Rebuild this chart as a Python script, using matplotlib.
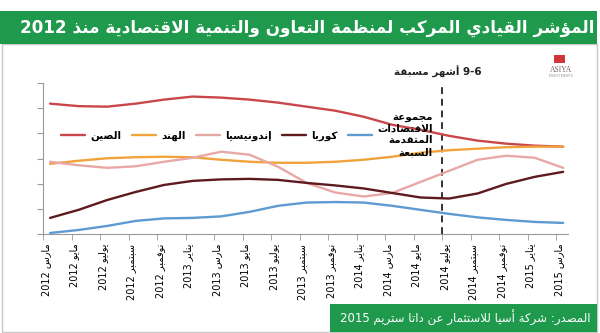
import re
import numpy as np
import matplotlib
matplotlib.use("Agg")
import matplotlib.pyplot as plt
from matplotlib.patches import Rectangle

# ---- data (y in grid units 0..6) ----
months = ['مارس', 'مايو', 'يوليو', 'سبتمبر', 'نوفمبر', 'يناير'] * 3 + ['مارس']
years = ['2012'] * 5 + ['2013'] * 6 + ['2014'] * 6 + ['2015'] * 2
x_pos = np.arange(19) + 0.25

china = [5.18, 5.08, 5.06, 5.18, 5.34, 5.46, 5.42, 5.34, 5.22, 5.06,
         4.90, 4.66, 4.34, 4.14, 3.90, 3.71, 3.59, 3.51, 3.47]
india = [2.79, 2.91, 3.01, 3.05, 3.07, 3.05, 2.95, 2.87, 2.83, 2.83,
         2.87, 2.95, 3.07, 3.23, 3.33, 3.39, 3.45, 3.47, 3.47]
indonesia = [2.87, 2.73, 2.63, 2.69, 2.87, 3.03, 3.27, 3.15, 2.67, 2.03,
             1.65, 1.49, 1.63, 2.07, 2.51, 2.95, 3.11, 3.03, 2.63]
korea = [0.64, 0.96, 1.35, 1.67, 1.95, 2.11, 2.17, 2.19, 2.15, 2.03,
         1.93, 1.81, 1.63, 1.45, 1.41, 1.61, 1.99, 2.27, 2.47]
g7 = [0.04, 0.16, 0.32, 0.52, 0.62, 0.64, 0.70, 0.88, 1.12, 1.25,
      1.27, 1.25, 1.12, 0.96, 0.80, 0.66, 0.56, 0.48, 0.44]

series_names = ['الصين', 'الهند', 'إندونيسيا', 'كوريا',
                'مجموعة\nالاقتصادات\nالمتقدمة\nالسبعة']
series_values = [china, india, indonesia, korea, g7]
series_colors = ['#c9474b', '#f0a33c', '#e8a8a6', '#5e1a1f', '#5e9bd3']

title = 'المؤشر القيادي المركب لمنظمة التعاون والتنمية الاقتصادية منذ 2012'
source = 'المصدر: شركة أسيا للاستثمار عن داتا ستريم 2015'
marker_text = '9-6 أشهر مسبقة'
marker_x = 14

# ---- minimal arabic shaping + right-to-left ordering (matplotlib does neither) ----
FORMS = {
    'ء': (0xFE80, 1), 'آ': (0xFE81, 2), 'أ': (0xFE83, 2), 'ؤ': (0xFE85, 2), 'إ': (0xFE87, 2),
    'ئ': (0xFE89, 4), 'ا': (0xFE8D, 2), 'ب': (0xFE8F, 4), 'ة': (0xFE93, 2), 'ت': (0xFE95, 4),
    'ث': (0xFE99, 4), 'ج': (0xFE9D, 4), 'ح': (0xFEA1, 4), 'خ': (0xFEA5, 4), 'د': (0xFEA9, 2),
    'ذ': (0xFEAB, 2), 'ر': (0xFEAD, 2), 'ز': (0xFEAF, 2), 'س': (0xFEB1, 4), 'ش': (0xFEB5, 4),
    'ص': (0xFEB9, 4), 'ض': (0xFEBD, 4), 'ط': (0xFEC1, 4), 'ظ': (0xFEC5, 4), 'ع': (0xFEC9, 4),
    'غ': (0xFECD, 4), 'ف': (0xFED1, 4), 'ق': (0xFED5, 4), 'ك': (0xFED9, 4), 'ل': (0xFEDD, 4),
    'م': (0xFEE1, 4), 'ن': (0xFEE5, 4), 'ه': (0xFEE9, 4), 'و': (0xFEED, 2), 'ى': (0xFEEF, 2),
    'ي': (0xFEF1, 4),
}
LAM_ALEF = {'آ': 0xFEF5, 'أ': 0xFEF7, 'إ': 0xFEF9, 'ا': 0xFEFB}


def shape(s):
    units = []
    i = 0
    while i < len(s):
        if s[i] == 'ل' and i + 1 < len(s) and s[i + 1] in LAM_ALEF:
            units.append(('LA', s[i + 1]))
            i += 2
        else:
            units.append(('C', s[i]))
            i += 1

    def joins_next(u):
        return u[0] == 'C' and u[1] in FORMS and FORMS[u[1]][1] == 4

    def joinable(u):
        return u[0] == 'LA' or (u[1] in FORMS and FORMS[u[1]][1] > 1)

    out = []
    for k, u in enumerate(units):
        jp = k > 0 and joins_next(units[k - 1]) and joinable(u)
        jn = k + 1 < len(units) and joins_next(u) and joinable(units[k + 1])
        if u[0] == 'LA':
            out.append(chr(LAM_ALEF[u[1]] + (1 if jp else 0)))
        elif u[1] in FORMS:
            base, n = FORMS[u[1]]
            if n == 4:
                idx = 3 if (jp and jn) else 2 if jn else 1 if jp else 0
            elif n == 2:
                idx = 1 if jp else 0
            else:
                idx = 0
            out.append(chr(base + idx))
        else:
            out.append(u[1])
    return ''.join(out)


def ar(text):
    lines = []
    for line in text.split('\n'):
        runs = re.findall(r'[0-9]+(?:[-.,][0-9]+)*|[^0-9]+', shape(line))
        lines.append(''.join(r if r[0].isdigit() else r[::-1] for r in reversed(runs)))
    return '\n'.join(lines)


plt.rcParams['font.family'] = ['DejaVu Sans']

fig = plt.figure(figsize=(6, 3.33), dpi=100)
W, H = 600, 333

# frame, title band, source band
fig.patches.append(Rectangle((1.5 / W, 1 - 332 / H), 595.5 / W, 288 / H, transform=fig.transFigure,
                             facecolor='none', edgecolor='#c8c8c8', lw=1, zorder=-1))
fig.patches.append(Rectangle((0, 1 - 44 / H), 597 / W, 33 / H, transform=fig.transFigure,
                             facecolor='#1f9a4c', edgecolor='none', zorder=1))
fig.patches.append(Rectangle((330 / W, 1 - 332 / H), 267 / W, 28 / H, transform=fig.transFigure,
                             facecolor='#1f9a4c', edgecolor='none', zorder=1))
fig.text(595 / W, 1 - 28 / H, ar(title), color='white', fontsize=12.1, fontweight='bold',
         ha='right', va='center', zorder=2)
fig.text(590 / W, 1 - 318 / H, ar(source), color='white', fontsize=8.5,
         ha='right', va='center', zorder=2)

# logo
fig.patches.append(Rectangle((554 / W, 1 - 63 / H), 11 / W, 8 / H, transform=fig.transFigure,
                             facecolor='#d1343a', edgecolor='none', zorder=2))
fig.text(561 / W, 1 - 70 / H, 'ASIYA', color='#7a6a6a', fontsize=5.5, family='Liberation Serif',
         ha='center', va='center')
fig.text(561 / W, 1 - 76 / H, 'INVESTMENTS', color='#9a9a9a', fontsize=2.5,
         ha='center', va='center')

ax = fig.add_axes([43 / W, 1 - 234 / H, 525 / W, 151 / H])
ax.patch.set_alpha(0)

handles = []
for name, vals, col in zip(series_names, series_values, series_colors):
    h, = ax.plot(x_pos, vals, color=col, lw=1.7, solid_capstyle='round')
    handles.append(h)

ax.axvline(marker_x, color='#333333', lw=1.4, ls=(0, (3.5, 2.5)), zorder=1)
ax.text(marker_x - 0.15, 6 + 11 / 25.1, ar(marker_text), fontsize=7.5, fontweight='bold',
        ha='center', va='center', color='#222222')

ax.set_xlim(0, 18.42)
ax.set_ylim(0, 6)
ax.set_yticks(range(7))
ax.set_yticklabels([])
ax.set_xticks(np.arange(19), minor=True)
ax.set_xticks(np.arange(19) + 0.1)
ax.set_xticklabels([ar(m + ' ' + y) for m, y in zip(months, years)], rotation=90, fontsize=7)
ax.tick_params(axis='x', which='major', length=0, pad=7)
ax.tick_params(axis='x', which='minor', length=4, color='#9a9a9a', direction='out')
ax.tick_params(axis='y', length=4, color='#9a9a9a', direction='out')
for s in ['top', 'right']:
    ax.spines[s].set_visible(False)
for s in ['left', 'bottom']:
    ax.spines[s].set_color('#9a9a9a')

leg = ax.legend(handles, [ar(n) for n in series_names], ncol=5, frameon=False,
                loc='center left', bbox_to_anchor=(0.017, 0.66), fontsize=7.5,
                handlelength=2.3, handletextpad=0.5, columnspacing=1.0)
for t in leg.get_texts():
    t.set_fontweight('bold')
    t.set_multialignment('right')

fig.savefig('out.png', dpi=100)
